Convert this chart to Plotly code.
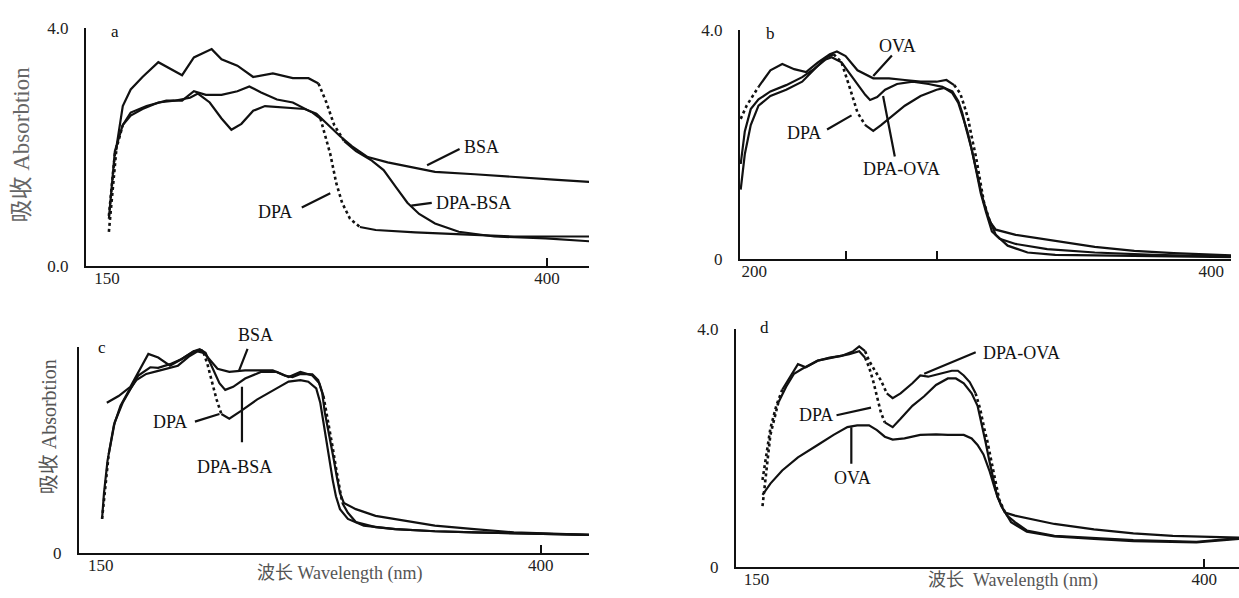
import plotly.graph_objects as go

# ---------------- data (wavelength nm, absorbance) ----------------
# panel a
a_wl_dpabsa = [151.1,153.4,155.6,159.0,163.5,170.2,179.2,185.9,192.7,199.4,209.5,215.1,224.1,233.1,244.3,255.6,264.5,270.2,274.7,279.1,284.8,291.5,300.5,307.2,314.0,320.7,327.4,336.4,349.9,370.1,399.3,424.0]
a_ab_dpabsa = [0.57,1.28,2.04,2.69,2.97,3.18,3.43,3.32,3.21,3.51,3.65,3.48,3.37,3.18,3.24,3.16,3.16,3.07,2.75,2.37,2.10,1.93,1.77,1.61,1.33,1.06,0.87,0.71,0.57,0.49,0.46,0.41]
a_wl_dpa = [151.1,154.5,159.0,163.5,172.5,183.7,192.7,199.4,206.2,215.1,224.1,230.9,237.6,246.6,255.6,266.8,271.3,273.5,276.9,280.3,283.6,288.1,293.7,302.7,325.2,349.9,381.3,403.8,424.0]
a_ab_dpa = [0.84,1.88,2.37,2.58,2.69,2.78,2.78,2.94,2.88,2.88,2.94,3.02,2.92,2.80,2.75,2.58,2.48,2.26,1.88,1.39,1.06,0.79,0.65,0.60,0.56,0.53,0.49,0.49,0.49]
a_wl_bsa = [151.1,154.5,159.0,163.5,170.2,179.2,188.2,197.2,201.7,208.4,215.1,220.7,226.4,233.1,239.8,251.1,262.3,269.0,275.8,282.5,289.3,298.2,309.5,322.9,336.4,358.9,381.3,403.8,424.0]
a_ab_bsa = [0.79,1.93,2.37,2.53,2.64,2.75,2.78,2.83,2.90,2.75,2.48,2.29,2.39,2.61,2.69,2.67,2.64,2.56,2.37,2.18,2.01,1.83,1.74,1.66,1.58,1.54,1.49,1.45,1.41]

# panel b
b_wl_ova = [194.1,196.7,201.9,207.1,212.3,217.5,222.7,227.9,233.1,236.2,240.0,245.2,252.1,259.0,265.9,272.8,279.8,284.1,287.5,290.1,291.9,293.6,295.3,297.1,298.8,300.5,303.1,305.7,314.4,331.7,349.0,366.3,383.6,408.6]
b_ab_ova = [2.45,2.68,3.01,3.30,3.41,3.32,3.27,3.44,3.58,3.63,3.55,3.30,3.16,3.16,3.13,3.10,3.10,3.13,3.04,2.90,2.68,2.45,2.11,1.77,1.38,0.99,0.65,0.51,0.42,0.31,0.21,0.14,0.10,0.06]
b_wl_dpaova = [194.1,195.9,198.5,201.9,207.1,214.0,221.0,226.1,231.3,233.9,238.2,243.4,248.6,250.7,253.8,257.3,262.5,269.4,276.3,282.4,286.7,289.3,291.0,293.3,295.3,297.4,299.7,302.2,305.7,310.9,319.6,331.7,349.0,374.9,408.6]
b_ab_dpaova = [1.66,2.23,2.62,2.79,2.93,3.04,3.18,3.32,3.49,3.53,3.44,3.16,2.87,2.78,2.83,2.96,3.06,3.10,3.06,3.01,2.90,2.73,2.51,2.23,1.89,1.49,1.10,0.76,0.42,0.23,0.11,0.07,0.06,0.04,0.03]
b_wl_dpa = [194.1,195.9,198.5,201.9,207.1,214.0,221.0,226.1,231.3,234.8,238.2,241.7,245.2,248.6,252.1,255.5,260.7,265.9,272.8,279.8,283.2,286.7,289.3,291.0,292.7,295.0,297.1,299.1,301.4,304.0,307.4,314.4,328.2,349.0,374.9,408.6]
b_ab_dpa = [1.21,1.83,2.34,2.68,2.85,2.96,3.10,3.30,3.52,3.58,3.44,3.01,2.56,2.34,2.24,2.34,2.51,2.68,2.85,2.96,2.99,2.93,2.76,2.56,2.28,1.94,1.55,1.15,0.82,0.48,0.35,0.26,0.17,0.11,0.07,0.04]

# panel c
c_wl_bsa = [153.4,160.1,166.8,171.3,177.0,182.6,189.3,196.0,202.8,207.3,211.8,216.3,223.0,232.0,241.0,247.7,254.4,258.9,263.4,270.2,273.5,275.8,277.3,279.1,280.9,282.5,284.1,285.9,288.1,294.9,306.1,317.3,339.8,362.2,384.7,427.4]
c_ab_bsa = [2.92,3.05,3.23,3.52,3.87,3.80,3.64,3.77,3.92,3.94,3.77,3.58,3.52,3.55,3.55,3.55,3.45,3.42,3.48,3.47,3.36,3.11,2.73,2.42,2.10,1.79,1.48,1.16,0.97,0.85,0.72,0.66,0.53,0.46,0.40,0.35]
c_wl_dpabsa = [150.7,152.2,154.5,157.9,162.4,166.8,171.3,178.1,182.6,189.3,196.0,202.8,206.2,209.5,214.0,217.4,220.7,225.2,232.0,241.0,249.9,256.7,263.4,270.2,274.2,276.5,278.2,280.0,281.8,283.6,285.4,287.2,290.4,294.9,306.1,317.3,339.8,362.2,384.7,427.4]
c_ab_dpabsa = [0.66,1.22,1.92,2.54,2.92,3.17,3.45,3.61,3.60,3.67,3.77,3.92,3.96,3.89,3.55,3.30,3.17,3.23,3.39,3.52,3.52,3.42,3.52,3.45,3.30,3.05,2.73,2.42,2.04,1.66,1.29,0.97,0.78,0.60,0.50,0.46,0.42,0.40,0.38,0.35]
c_wl_dpa = [150.7,151.8,153.8,157.4,161.2,165.7,170.2,175.8,182.6,187.1,193.8,200.5,205.0,208.4,210.6,212.9,215.8,218.5,223.0,229.7,238.7,249.9,256.7,263.4,267.9,272.4,274.7,276.5,278.2,280.0,281.8,283.6,285.9,290.4,299.4,317.3,339.8,362.2,427.4]
c_ab_dpa = [0.66,1.16,1.79,2.48,2.86,3.14,3.36,3.48,3.54,3.58,3.64,3.83,3.92,3.89,3.67,3.36,2.98,2.70,2.61,2.76,2.98,3.20,3.33,3.36,3.33,3.20,2.92,2.54,2.17,1.79,1.41,1.10,0.85,0.66,0.53,0.46,0.42,0.40,0.35]

# panel d
d_wl_dpaova = [153.3,155.5,157.7,161.0,164.3,168.7,173.1,177.5,184.1,190.8,197.4,204.0,207.3,210.6,212.8,216.1,219.4,222.7,226.0,230.4,237.0,241.4,245.8,252.4,259.0,262.4,265.7,269.0,272.3,274.9,277.1,278.9,281.1,283.3,285.5,288.8,294.3,316.3,338.4,360.4,382.4,419.4]
d_ab_dpaova = [1.46,1.89,2.33,2.71,2.98,3.20,3.41,3.36,3.47,3.52,3.55,3.63,3.71,3.63,3.47,3.30,3.14,2.92,2.84,2.92,3.09,3.22,3.20,3.25,3.30,3.30,3.22,3.11,2.92,2.65,2.33,2.11,1.78,1.46,1.13,0.91,0.86,0.72,0.63,0.56,0.52,0.49]
d_wl_dpa = [153.3,155.5,157.7,162.1,166.5,170.9,175.3,184.1,193.0,201.8,207.3,210.6,212.8,215.0,217.2,219.4,221.6,226.0,230.4,237.0,243.6,250.2,256.8,261.3,265.7,270.1,273.4,275.6,277.8,280.0,282.2,284.4,287.7,292.1,300.9,316.3,338.4,360.4,395.6,419.4]
d_ab_dpa = [1.02,1.67,2.22,2.76,3.03,3.25,3.33,3.47,3.52,3.58,3.63,3.52,3.36,3.14,2.87,2.60,2.43,2.35,2.49,2.71,2.87,3.06,3.17,3.17,3.09,2.92,2.71,2.43,2.11,1.78,1.46,1.18,0.97,0.75,0.59,0.51,0.47,0.43,0.41,0.47]
d_wl_ova = [153.3,157.7,164.3,173.1,184.1,193.0,200.7,206.2,212.8,217.2,221.6,226.0,232.6,241.4,250.2,256.8,265.7,270.1,273.4,276.7,280.0,283.3,286.6,289.9,294.3,300.9,316.3,338.4,360.4,395.6,419.4]
d_ab_ova = [1.21,1.40,1.62,1.84,2.05,2.22,2.35,2.38,2.38,2.30,2.19,2.14,2.16,2.22,2.23,2.22,2.22,2.16,2.05,1.89,1.62,1.29,1.02,0.86,0.75,0.61,0.52,0.48,0.45,0.42,0.48]

# tick labels
a_xticks = [150, 400]; a_xtext = ["150", "400"]; a_ytext = ["0.0", "4.0"]
b_xticks = [200, 400]; b_xtext = ["200", "400"]; b_ytext = ["0", "4.0"]
c_xticks = [150, 400]; c_xtext = ["150", "400"]; c_ytext = ["0", ""]
d_xticks = [150, 400]; d_xtext = ["150", "400"]; d_ytext = ["0", "4.0"]
y_ticks = [0, 4]

# ---------------- figure ----------------
W, H = 1239, 598
SERIF = "Liberation Serif, 'Times New Roman', 'Noto Sans CJK SC', serif"

def px(x):
    return x / W

def py(y):
    return 1 - y / H

fig = go.Figure()

# (axes, x, y, list of dotted index ranges in the printed trace)
series = [
    ("x", "y", a_wl_dpabsa, a_ab_dpabsa, [(0, 2), (17, 20)]),
    ("x", "y", a_wl_dpa, a_ab_dpa, [(0, 2), (16, 22)]),
    ("x", "y", a_wl_bsa, a_ab_bsa, []),
    ("x2", "y2", b_wl_ova, b_ab_ova, [(0, 2), (18, 26)]),
    ("x2", "y2", b_wl_dpaova, b_ab_dpaova, []),
    ("x2", "y2", b_wl_dpa, b_ab_dpa, [(9, 13)]),
    ("x3", "y3", c_wl_bsa, c_ab_bsa, []),
    ("x3", "y3", c_wl_dpabsa, c_ab_dpabsa, [(0, 2), (25, 31)]),
    ("x3", "y3", c_wl_dpa, c_ab_dpa, [(13, 17)]),
    ("x4", "y4", d_wl_dpaova, d_ab_dpaova, [(0, 4), (13, 17), (28, 35)]),
    ("x4", "y4", d_wl_dpa, d_ab_dpa, [(0, 3), (11, 16)]),
    ("x4", "y4", d_wl_ova, d_ab_ova, []),
]
for xa, ya, xs, ys, dotted in series:
    # solid base pieces: split around dotted ranges
    cuts = sorted(dotted)
    start = 0
    pieces = []
    for s, e in cuts:
        if s > start:
            pieces.append((start, s, "solid"))
        pieces.append((s, e, "dot"))
        start = e
    if start < len(xs) - 1:
        pieces.append((start, len(xs) - 1, "solid"))
    for s, e, dash in pieces:
        fig.add_trace(go.Scatter(x=xs[s:e + 1], y=ys[s:e + 1], xaxis=xa, yaxis=ya, mode="lines",
                                 line=dict(color="#111", width=2.6 if dash == "dot" else 2.2, dash=dash),
                                 showlegend=False, hoverinfo="skip"))

tickfont = dict(family=SERIF, size=17, color="#222")

def xaxis(dom, rng, tv, tt, minor_vals, anchor):
    return dict(domain=dom, range=rng, anchor=anchor, showline=True, linecolor="#111", linewidth=2,
                showgrid=False, zeroline=False, tickmode="array", tickvals=tv, ticktext=tt,
                ticks="", tickfont=tickfont, ticklabelstandoff=-4,
                minor=dict(tickmode="array", tickvals=minor_vals, ticks="inside", ticklen=8,
                           tickwidth=2, tickcolor="#111", showgrid=False))

def yaxis(dom, tt, anchor):
    return dict(domain=dom, range=[0, 4], anchor=anchor, showline=True, linecolor="#111", linewidth=2,
                showgrid=False, zeroline=False, tickmode="array", tickvals=y_ticks, ticktext=tt,
                ticks="inside", ticklen=9, tickwidth=2, tickcolor="#111", tickfont=tickfont,
                ticklabelstandoff=12)

fig.update_layout(
    width=W, height=H, margin=dict(l=0, r=0, t=0, b=0),
    paper_bgcolor="white", plot_bgcolor="white",
    xaxis=xaxis([px(86), px(589)], [138.1, 423.9], a_xticks, a_xtext, [400], "y"),
    yaxis=yaxis([py(265), py(20)], a_ytext, "x"),
    xaxis2=xaxis([px(740), px(1231)], [193.8, 408.6], b_xticks, b_xtext, [240, 280], "y2"),
    yaxis2=yaxis([py(258), py(22)], b_ytext, "x2"),
    xaxis3=xaxis([px(79), px(589)], [137.6, 427.4], c_xticks, c_xtext, [400], "y3"),
    yaxis3=yaxis([py(561.7), py(349.3)], c_ytext, "x3"),
    xaxis4=xaxis([px(736), px(1239)], [138.5, 419.4], d_xticks, d_xtext, [400], "y4"),
    yaxis4=yaxis([py(576), py(330.7)], d_ytext, "x4"),
)

annots = []
labfont = dict(family=SERIF, size=18, color="#111")

# curve labels (text, paper px position)
labels = [
    ("BSA", 481, 143), ("DPA-BSA", 473, 200), ("DPA", 275, 210),
    ("OVA", 897, 38), ("DPA", 804, 128), ("DPA-OVA", 901, 165),
    ("BSA", 255, 337), ("DPA", 170, 427), ("DPA-BSA", 234, 473),
    ("DPA-OVA", 1022, 355), ("DPA", 816, 419), ("OVA", 852, 484),
]
for t, x, y in labels:
    annots.append(dict(text=t, x=px(x), y=py(y), xref="paper", yref="paper", showarrow=False,
                       font=labfont, xanchor="center", yanchor="middle"))

# leader lines: head on curve (data), tail offset in px
leaders = [
    ("x", "y", 331.9, 1.69, 34, -17), ("x", "y", 322.9, 1.01, 22, -3), ("x", "y", 276.9, 1.22, -30, 15),
    ("x2", "y2", 252.1, 3.20, 20, -22), ("x2", "y2", 242.6, 2.51, -26, 15), ("x2", "y2", 256.4, 2.85, 12, 62),
    ("x3", "y3", 228.6, 3.55, 9, -23), ("x3", "y3", 217.4, 2.70, -26, 8), ("x3", "y3", 230.2, 3.23, 0, 57),
    ("x4", "y4", 243.6, 3.25, 53, -22), ("x4", "y4", 213.9, 2.68, -36, 8), ("x4", "y4", 202.9, 2.35, 0, 38),
]
for xr, yr, x, y, ax, ay in leaders:
    annots.append(dict(text="", x=x, y=y, xref=xr, yref=yr, showarrow=True, arrowhead=0,
                       arrowwidth=2.2, arrowcolor="#111", ax=ax, ay=ay, standoff=0))

# panel letters
for t, x, y in [("a", 115, 23), ("b", 770, 25), ("c", 102, 350), ("d", 764, 329)]:
    annots.append(dict(text=t, x=px(x), y=py(y), xref="paper", yref="paper", showarrow=False,
                       font=dict(family=SERIF, size=17, color="#111"), xanchor="center", yanchor="middle"))

# axis titles
annots.append(dict(text="吸收 Absorbtion", x=px(22), y=py(140), xref="paper", yref="paper", showarrow=False,
                   textangle=-90, font=dict(family=SERIF, size=23, color="#666"), xanchor="center", yanchor="middle"))
annots.append(dict(text="吸收 Absorbtion", x=px(49), y=py(432), xref="paper", yref="paper", showarrow=False,
                   textangle=-90, font=dict(family=SERIF, size=20, color="#555"), xanchor="center", yanchor="middle"))
annots.append(dict(text="波长 Wavelength (nm)", x=px(340), y=py(583), xref="paper", yref="paper", showarrow=False,
                   font=dict(family=SERIF, size=18, color="#555"), xanchor="center", yanchor="middle"))
annots.append(dict(text="波长  Wavelength (nm)", x=px(1013), y=py(590), xref="paper", yref="paper", showarrow=False,
                   font=dict(family=SERIF, size=18, color="#555"), xanchor="center", yanchor="middle"))

fig.update_layout(annotations=annots)
fig.write_html("out.html", config={"displayModeBar": False},
               post_script="document.body.style.margin='0';document.body.style.overflow='hidden';")
